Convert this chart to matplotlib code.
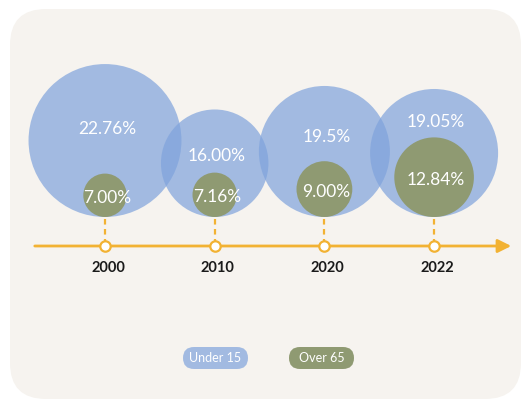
import matplotlib.pyplot as plt
from matplotlib.patches import Circle, FancyBboxPatch

years = ["2000", "2010", "2020", "2022"]
under15 = [22.76, 16.00, 19.5, 19.05]
over65 = [7.00, 7.16, 9.00, 12.84]
under15_labels = ["22.76%", "16.00%", "19.5%", "19.05%"]
over65_labels = ["7.00%", "7.16%", "9.00%", "12.84%"]

blue = "#7fa3dc"
green = "#8f9a72"
orange = "#f2b233"
card = "#f6f3ef"

fig = plt.figure(figsize=(5.23, 4.01), dpi=100)
ax = fig.add_axes([0, 0, 1, 1])
ax.set_xlim(0, 523)
ax.set_ylim(401, 0)
ax.set_aspect("equal")
ax.axis("off")

# rounded card behind everything
ax.add_patch(FancyBboxPatch((10, 9), 511, 390, boxstyle="round,pad=0,rounding_size=36",
                            fc=card, ec="none", zorder=0))

x0, step = 105, 109.7
base = 217      # circles sit on this line
line_y = 246
k_blue, k_green = 3.36, 3.1
lift = [12, 7, 14, 31]   # how far the big label sits above the circle centre

for i, yr in enumerate(years):
    x = x0 + i * step
    rb = under15[i] * k_blue
    rg = over65[i] * k_green
    ax.add_patch(Circle((x, base - rb), rb, fc=blue, ec="none", alpha=0.7, zorder=2))
    ax.add_patch(Circle((x, base - rg), rg, fc=green, ec="none", zorder=3))
    ax.text(x + 2, base - rb - lift[i], under15_labels[i], ha="center", va="center",
            color="white", fontsize=12.5, family="Lato", zorder=5)
    ax.text(x + 2, base - rg + 2.5, over65_labels[i],
            ha="center", va="center", color="white", fontsize=12.5, family="Lato", zorder=5)
    ax.plot([x, x], [base + 2, line_y - 4], color=orange, lw=1.6, ls=(0, (2.5, 2)), zorder=3)
    ax.plot(x, line_y, "o", ms=7.5, mfc="white", mec=orange, mew=1.6, zorder=6)
    ax.text(x + 3, 268, yr, ha="center", va="center", color="#1a1a1a",
            fontsize=10.5, family="Lato", fontweight="bold", zorder=5)

# timeline with arrow head
ax.annotate("", xy=(514, line_y), xytext=(32, line_y),
            arrowprops=dict(arrowstyle="-|>,head_length=0.8,head_width=0.4",
                            color=orange, lw=2), zorder=4)

# legend pills
for cx, name, c, a in [(215.5, "Under 15", blue, 0.7), (321.5, "Over 65", green, 1)]:
    ax.add_patch(FancyBboxPatch((cx - 32.5, 347), 65, 22,
                                boxstyle="round,pad=0,rounding_size=11",
                                fc=c, ec="none", alpha=a, zorder=2))
    ax.text(cx, 358.5, name, ha="center", va="center", color="white",
            fontsize=9, family="Lato", zorder=5)

fig.savefig("out.png", dpi=100, facecolor="white")
